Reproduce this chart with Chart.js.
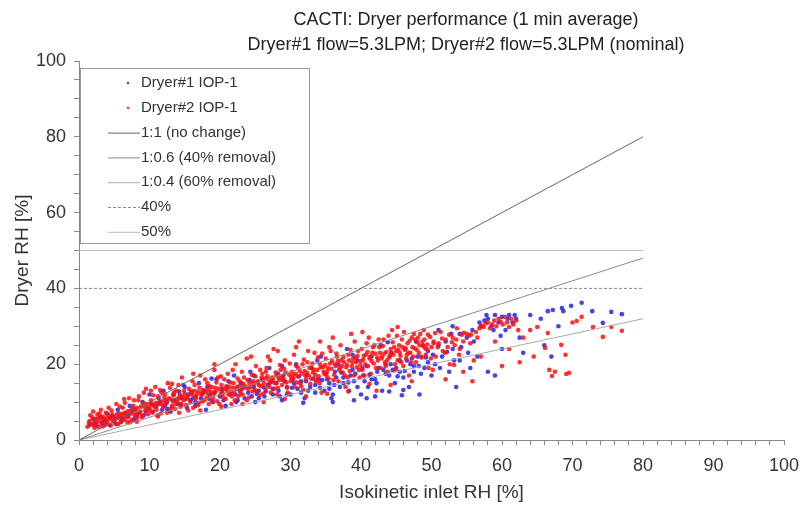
<!DOCTYPE html>
<html>
<head>
<meta charset="utf-8">
<script src="https://cdn.jsdelivr.net/npm/chart.js@4.4.1/dist/chart.umd.min.js"></script>
<style>
  html, body { margin: 0; padding: 0; background: #fff; }
</style>
</head>
<body>
<canvas id="dryerChart" width="800" height="505"></canvas>
<script>
const titleLines = [
  "CACTI: Dryer performance (1 min average)",
  "Dryer#1 flow=5.3LPM; Dryer#2 flow=5.3LPM (nominal)"
];

// Dryer#1 IOP-1, [inlet RH, dryer RH]
const dryer1Points = [
  [1.5,4],[2,5.5],[2.5,3.8],[3,6],[3.2,4.5],[3.8,5],[4,7],[4.3,4],[4.8,6.2],[5,5],[5.5,8],[5.8,6],
  [6,4.8],[6.5,7],[7,6.5],[7.2,9],[7.8,5.5],[8,8],[8.5,7],[9,10],[9.2,6.5],[9.8,8.5],[10,12],[10.5,7.5],
  [11,9],[11.3,11],[11.8,8],[12,13],[12.5,10],[13,7.5],[13.4,12],[14,9.5],[14.5,11],[15,14],[15.3,8.5],
  [15.8,10.5],[16,12.5],[16.5,9],[17,15],[17.3,11],[17.8,13],[18,8],[18.5,12],[19,10],[19.5,16],[20,11.5],
  [20.3,13.5],[20.8,9],[21,14],[21.5,12],[22,17],[22.3,10],[22.8,13],[23,15],[23.5,11],[24,12.5],[24.3,18],
  [24.8,14],[25,10],[25.5,13],[26,16],[26.3,11.5],[26.8,14.5],[27,19],[27.5,12],[28,15],[28.3,13],[28.8,10.5],
  [29,17],[29.5,14],[30,12],[30.3,16],[30.8,20],[31,13.5],[31.5,15.5],[32,11],[32.3,17],[32.8,14],[33,19],
  [33.5,12.5],[34,16],[34.3,22],[34.8,13],[35,17.5],[35.5,15],[36,12],[36.3,18],[36.8,20],[37,14],[37.5,16.5],
  [38,24],[38.3,13],[38.8,18.5],[39,15.5],[39.5,21],[40,12],[40.3,17],[40.8,19.5],[41,14],[41.5,22],[42,16],
  [42.3,18],[42.8,25],[43,13],[43.5,20],[44,17],[44.3,23],[44.8,15],[45,19],[45.5,21],[46,16.5],[46.3,24],
  [46.8,14],[47,20],[47.5,18],[48,22],[48.3,12],[48.8,25],[49,19],[49.5,23.5],[50,17],[50.5,20],[51,25],
  [51.5,22],[52,26],[52.5,18],[53,24],[53.5,14],[54,21],[55,27],[55.5,19],[56,26],[57,30],[57.5,31.5],
  [58,32],[58.5,30],[59,33],[59.5,31],[60,32.5],[60.5,29],[61,33],[61.5,31],[62,32],[56.5,22],[58,18],
  [60,24],[63,23],[64,33],[65.5,32],[66,25],[67,22],[68,30],[59,17],[54,28],[53,30],[51,29],[62.5,27],
  [66.5,34],[67.2,34.3],[68.5,34.8],[68.7,34],[69.8,35.4],[71.3,36.2],[72.8,34],[74.3,30.9],[75.5,33.8],[77,33.2],
  [22.5,10.5],[25.5,11],[27.5,13.5],[29.5,12],[31.5,12.5],[33.5,14.5],[35.5,13.5],[37.5,15],[39.5,14],
  [41.5,16],[43.5,17.5],[45.5,18],[47.5,19.5],[49.5,20.5],[36.5,16.5],[38.5,17],[40.5,15.5],[42.5,19],
  [44.5,18.5],[46.5,21],[48.5,17.5],[30.5,15],[32.5,13],[34.5,15.8],[26.5,12.8],[28.5,11.5],[24.5,11.5],
  [20.5,10.5],[18.5,10.8],[16.5,10],[14.5,9.2],[12.5,8.2],[42,11.5],[44,12.8],[46,13.2],[39,10.5],[36,10],
  [2.2,4.5],[3.5,5.2],[4.5,6],[5.3,4.2],[6.2,5.8],[7.5,7.5],[8.2,6.2],[9.5,7.5],[10.2,9.5],[11.5,10],
  [12.2,9.2],[13.5,10.5],[14.2,12.8],[15.5,12],[16.2,11],[17.5,12.2],[18.2,14],[19.2,12.5],[20.2,12.5],
  [21.2,15.5],[22.2,12],[23.2,13.8],[24.2,15.8],[25.2,12.2],[26.2,14],[27.2,15.2],[28.2,17.5],[29.2,15.5],
  [30.2,13.8],[31.2,16.8],[32.2,15.5],[33.2,16.2],[34.2,13.8],[35.2,16],[36.2,14.5],[37.2,17.8],[38.2,15.2],
  [39.2,17.5],[40.2,19],[41.2,17.2],[42.2,15],[43.2,18.5],[44.2,20],[45.2,16.8],[46.2,18.2],[47.2,21.5],
  [48.2,19.5],[49.2,21.8],[50.2,22.5],[51.2,19],[52.2,23.2],[53.2,21],[54.2,24.5],[55.2,23],[31.8,9.8],
  [35.8,11],[40.8,11],[45.8,11.8],[38.8,22.5],[33.8,21],[28.8,19.5],[43.8,25.8],[47.8,26],[18.8,16.2],
  [14.8,14.5],[24.8,17],[52.8,28],[55.8,29],[56.8,31],[57.8,33],[60.8,32],[61.8,33],[58.8,29],[59.8,27.5]
];

// Dryer#2 IOP-1
const dryer2Points = [
  [1.2,3.5],[1.5,5],[1.6,6.5],[1.8,4.2],[2,7.5],[2.1,3.8],[2.3,5.5],[2.5,4.5],[2.6,6.8],[2.8,3.5],[3,5],
  [3.1,8],[3.3,4.2],[3.5,6],[3.6,5.2],[3.8,7.2],[4,4.5],[4.1,6.5],[4.3,5.5],[4.5,3.8],[4.6,7.8],[4.8,5],
  [5,6.2],[5.1,4.4],[5.3,9.5],[5.5,5.8],[5.7,7],[5.9,4.8],
  [6,6.5],[6.2,8.5],[6.4,5.5],[6.6,7.2],[6.8,4.8],[7,6],[7.1,11],[7.3,7.8],[7.5,5.2],[7.7,9],[7.9,6.6],
  [8,8],[8.2,5.8],[8.4,10.5],[8.6,7.2],[8.8,8.8],[9,6.4],[9.2,12.5],[9.4,7.8],[9.6,9.5],[9.8,6.8],[10,8.5],
  [10.2,10.5],[10.4,7.2],[10.6,9.2],[10.8,14],[11,8],[11.2,11.5],[11.4,9.5],[11.6,7],[11.8,10.2],[12,8.8],
  [12.2,12],[12.4,9.8],[12.6,15],[12.8,7.8],[13,10.8],[13.2,9],[13.4,11.8],[13.6,8.2],[13.8,13],[14,10],
  [14.2,11.2],[14.4,8.8],[14.6,16.5],[14.8,10.5],[15,12.2],
  [15.2,9.2],[15.4,11],[15.6,13.5],[15.8,10],[16,12],[16.2,8.5],[16.4,14.5],[16.6,11],[16.8,12.8],[17,9.8],
  [17.2,17],[17.4,11.8],[17.6,13.2],[17.8,10.5],[18,12.5],[18.2,15],[18.4,9.5],[18.6,12],[18.8,14],[19,11],
  [19.2,18.5],[19.4,12.8],[19.6,10.2],[19.8,13.5],[20,11.8],
  [20.2,14.5],[20.4,12.2],[20.6,16],[20.8,10.8],[21,13],[21.2,12],[21.4,15.2],[21.6,9.5],[21.8,13.8],[22,12.5],
  [22.2,20],[22.4,14],[22.6,11.5],[22.8,15.5],[23,13.2],[23.2,12],[23.4,16.5],[23.6,14.2],[23.8,10.5],
  [24,13.5],[24.2,15],[24.4,22],[24.6,12.8],[24.8,14.8],[25,16.8],
  [25.2,13],[25.4,15.5],[25.6,11.8],[25.8,14.2],[26,17.5],[26.2,15],[26.4,13.5],[26.6,19],[26.8,16],[27,14],
  [27.2,12.5],[27.4,16.5],[27.6,24],[27.8,15],[28,17],[28.2,13.8],[28.4,15.8],[28.6,18.5],[28.8,14.5],
  [29,16.2],[29.2,21],[29.4,15.2],[29.6,12.5],[29.8,17.2],[30,15.5],
  [30.2,18],[30.4,16.2],[30.6,14],[30.8,19.5],[31,16.8],[31.2,26],[31.4,15],[31.6,17.5],[31.8,13.2],[32,18.2],
  [32.2,16],[32.4,20.5],[32.6,17],[32.8,14.8],[33,19],[33.2,17.8],[33.4,23],[33.6,15.5],[33.8,18.5],[34,16.8],
  [34.2,20],[34.4,12.5],[34.6,19.2],[34.8,17.5],[35,21.5],
  [35.2,18],[35.4,16.2],[35.6,20.2],[35.8,18.8],[36,27],[36.2,17.2],[36.4,19.5],[36.6,22],[36.8,15.5],[37,19],
  [37.2,21],[37.4,17.8],[37.6,20.5],[37.8,14],[38,19.8],[38.2,22.5],[38.4,18.2],[38.6,28],[38.8,20.5],[39,17],
  [39.2,21.8],[39.4,19.2],[39.6,23.5],[39.8,16.5],[40,20.8],
  [40.2,18.5],[40.4,22.2],[40.6,20],[40.8,25.5],[41,19.5],[41.2,21.5],[41.4,17.5],[41.6,23],[41.8,20.2],
  [42,22.8],[42.2,13],[42.4,21],[42.6,24.5],[42.8,19],[43,22],[43.2,26.5],[43.4,20.5],[43.6,23.2],[43.8,18],
  [44,21.8],[44.2,24],[44.4,29],[44.6,22.5],[44.8,20],[45,23.5],
  [45.2,21],[45.4,25],[45.6,22.2],[45.8,26.5],[46,19.5],[46.2,23.8],[46.4,21.5],[46.6,25.5],[46.8,17],[47,23],
  [47.2,27],[47.4,22],[47.6,24.2],[47.8,20.5],[48,25.8],[48.2,23],[48.4,28],[48.6,21.8],[48.8,24.8],[49,26.5],
  [49.2,22.5],[49.4,25.2],[49.6,19],[49.8,27.2],[50,24.5],
  [50.3,26],[50.6,22],[51,25.5],[51.3,28.5],[51.6,23.5],[52,26.5],[52.3,24.5],[52.6,20],[53,27],[53.3,25],
  [53.6,29.5],[54,24],[54.3,27.8],[54.6,28.3],[55,28],[55.3,27.5],[55.6,27.8],[56,21],[56.3,28.5],[55.8,15.5],
  [52,16],[54.5,18],
  [56.8,29.5],[57.1,30.2],[57.4,29.8],[57.7,30.8],[58,31],[58.3,29.5],[58.6,30.5],[58.9,31.5],[59.2,30],
  [59.5,32],[59.8,31.2],[60.1,30.5],[60.4,32.5],[60.7,31],[61,29.8],[61.3,32],[61.6,30.5],[62,31.5],[62.3,29],
  [63,27],[59,26],[61,24],[57,22],[60,19.5],[62.5,20.5],
  [64,29],[65,29.8],[66.1,24.3],[66.5,28.2],[68.4,25.1],[70,31],[70.6,31.4],[71.3,32.5],[72.9,29.8],[74.3,27.2],
  [75.5,29.8],[77,28.8],[66.7,18.5],[67.5,18],[67.1,16.9],[69.1,17.4],[69.5,17.7],[64.5,22],[69,22.5],
  [3.2,6.2],[4.4,5.8],[5.4,6.8],[6.3,7],[7.4,7],[8.3,8.5],[9.3,8.8],[10.3,9.5],[11.3,9.8],[12.3,10.5],
  [13.3,10.2],[14.3,12],[15.3,11.5],[16.3,13],[17.3,12.5],[18.3,13.2],[19.3,13.8],[20.3,13],[21.3,14],
  [22.3,13.5],[23.3,14.8],[24.3,14],[25.3,15.2],[26.3,16.2],[27.3,15.5],[28.3,16.5],[29.3,17.8],[30.3,17],
  [31.3,18.2],[32.3,17.8],[33.3,18.5],[34.3,19.2],[35.3,19],[36.3,20],[37.3,19.5],[38.3,21],[39.3,20.5],
  [40.3,21.2],[41.3,22],[42.3,21.8],[43.3,22.8],[44.3,23],[45.3,23.8],[46.3,24.2],[47.3,24.5],[48.3,25],
  [49.3,24],[50.3,25.5],
  [5.2,5.6],[6.7,6.2],[8.7,7.5],[10.7,8.8],[12.7,11],[14.7,11.5],[16.7,12],[18.7,12.8],[20.7,13.5],
  [22.7,14.2],[24.7,15.5],[26.7,16.8],[28.7,16.8],[30.7,17.5],[32.7,19],[34.7,18],[36.7,20.8],[38.7,19.5],
  [40.7,22.5],[42.7,23],[44.7,24.5],[46.7,23],[48.7,26],
  [2.4,4.8],[3.7,4],[11.7,12.5],[13.7,9.5],[19.7,16.5],[21.7,11.5],[25.7,18.5],[27.7,13.5],[31.7,20],
  [33.7,16],[35.7,23.5],[37.7,17],[39.7,18.5],[41.7,24.5],[43.7,21],[45.7,20.5],[47.7,26.5],
  [1.4,4.6],[1.9,6],[2.2,3.2],[2.7,5.8],[2.9,7],[3.4,3.6],[3.9,5.6],[4.2,8.5],[4.7,6.8],[5.6,4.2],[5.8,8.8],
  [6.1,5.2],[6.5,9.8],[6.9,7.6],[7.2,4.6],[7.6,8.2],[8.1,6.8],[8.5,11.5],[8.9,6],[9.1,9.8],[9.5,13.5],[9.7,8],
  [10.1,7.8],[10.5,11.8],[10.9,9.8],[11.1,6.5],[11.5,13.2],[11.9,9],[12.1,11.2],[12.5,7.2],[12.9,13.8],
  [13.1,8.5],[13.5,12.6],[13.9,10.8],[14.1,14.5],[14.5,9.5],[14.9,13],[15.1,10.8],[15.5,7.8],[15.9,12.8],
  [16.1,15.5],[16.5,11.5],[16.9,9.2],[17.1,13.8],[17.5,10.2],[17.9,16],[18.1,11.2],[18.5,14.2],[18.9,10.2],
  [19.1,12.2],[19.5,15.2],[19.9,9.5],[20.1,16.8],[20.5,11.2],[20.9,14.2],[21.1,17.5],[21.5,12.8],[21.9,15],
  [22.1,10.5],[22.5,16.2],[22.9,12.2],[23.1,18],[23.5,13.8],[23.9,15.8],[24.1,11.2],[24.5,17.2],[24.9,13.2],
  [25.1,19.5],[25.5,14.5],[25.9,16.5],[26.1,12.2],[26.5,18],[26.9,14.8],[27.1,21],[27.5,16],[27.9,17.8],
  [28.1,12],[28.5,19.8],[28.9,15.8],[29.1,18.8],[29.5,13.8],[29.9,20.2],[30.1,16.5],[30.5,22.5],[30.9,15.2],
  [31.1,19],[31.5,14.2],[31.9,21.2],[32.1,17],[32.5,23.5],[32.9,16.2],[33.1,20.2],[33.5,17.2],[33.9,21.8],
  [34.1,15],[34.5,22.8],[34.9,19.8],[35.1,17],[35.5,24.5],[35.9,20.8],[36.1,15.8],[36.5,22.8],[36.9,18.5],
  [37.1,25],[37.5,21.8],[37.9,19.2],[38.1,16.5],[38.5,23.8],[38.9,21.5],[39.1,26],[39.5,22.2],[39.9,19.8],
  [40.1,24],[40.5,17],[40.9,23.2],[41.1,27],[41.5,20.8],[41.9,25],[42.1,19],[42.5,26.5],[42.9,21.5],
  [43.1,24.8],[43.5,19.5],[43.9,27.5],[44.1,22.2],[44.5,25.8],[44.9,18.5],[45.1,27.5],[45.5,23],[45.9,24.5],
  [46.1,28.5],[46.5,22.5],[46.9,26.2],[47.1,20.5],[47.5,28],[47.9,23.8],[48.1,27],[48.5,22],[48.9,29],
  [49.1,24.2],[49.5,27.8],[49.9,21.5],[50.5,28.2],[50.9,24.5],[51.5,26.8],[51.9,23],[52.5,27.8],[52.9,25.8],
  [53.5,26.5],[53.9,22.5],[54.5,26],[55.5,25.5],[56.5,27],[50.2,18.5],[53.2,19.8],[47.2,15.5],[44.2,14.5],
  [41.2,14.8],[38.2,12.8],[35.2,12.2],[32.2,11.5],[29.2,10.8],[26.2,10],[23.2,9.5],[20.2,8.8],[17.2,7.8],
  [14.2,7.2],[11.2,6.2],[8.2,4.8],[13.2,14.8],[10.2,13],[7.8,10.5],[6.4,10.8],[16.2,17.5],[19.2,20],
  [23.8,21.5],[28.2,23.5],[34.2,26],[40.2,28.5],[45.2,29.8],[30.8,24.5],[26.8,22],[21.8,18.5]
];

// reference lines: x end points and y end points
const refX = [0, 80];
const oneToOne = [0, 80];
const ratio06 = [0, 48];
const ratio04 = [0, 32];
const rh40 = [40, 40];
const rh50 = [50, 50];

function toXY(points) {
  return points.map(p => ({ x: p[0], y: p[1] }));
}
function refLine(ys) {
  return refX.map((x, i) => ({ x: x, y: ys[i] }));
}

const FONT = '"Liberation Sans", Arial, sans-serif';
Chart.defaults.font.family = FONT;
Chart.defaults.color = '#333';

const titlePlugin = {
  id: 'twoLineTitle',
  afterDraw(chart) {
    const ctx = chart.ctx;
    ctx.save();
    ctx.font = '18px ' + FONT;
    ctx.fillStyle = '#222';
    ctx.textAlign = 'center';
    ctx.textBaseline = 'middle';
    ctx.fillText(titleLines[0], 466, 20);
    ctx.fillText(titleLines[1], 466, 45);
    ctx.restore();
  }
};

// legend drawn as a framed box in the upper-left of the plot
const boxLegend = {
  id: 'boxLegend',
  afterDraw(chart) {
    const ctx = chart.ctx;
    const x0 = 80, y0 = 68, w = 229, h = 175;
    ctx.save();
    ctx.fillStyle = '#fff';
    ctx.fillRect(x0, y0, w, h);
    ctx.strokeStyle = '#999';
    ctx.lineWidth = 1;
    ctx.strokeRect(x0 + 0.5, y0 + 0.5, w, h);
    ctx.font = '15px ' + FONT;
    ctx.textBaseline = 'middle';
    chart.data.datasets.forEach((ds, i) => {
      const y = y0 + 15 + i * 24.8;
      if (!ds.showLine) {
        ctx.fillStyle = ds.backgroundColor;
        ctx.beginPath();
        ctx.arc(128, y, 1.3, 0, Math.PI * 2);
        ctx.fill();
      } else {
        ctx.strokeStyle = ds.borderColor;
        ctx.lineWidth = ds.borderWidth;
        ctx.setLineDash(ds.borderDash || []);
        ctx.beginPath();
        ctx.moveTo(108, y + 0.5);
        ctx.lineTo(140, y + 0.5);
        ctx.stroke();
        ctx.setLineDash([]);
      }
      ctx.fillStyle = '#333';
      ctx.fillText(ds.label, 141, y);
    });
    ctx.restore();
  }
};

function lineSet(label, ys, color, dash) {
  return {
    label: label,
    data: refLine(ys),
    showLine: true,
    borderColor: color,
    borderWidth: 1,
    borderDash: dash,
    pointRadius: 0,
    pointHoverRadius: 0,
    order: 0
  };
}

new Chart(document.getElementById('dryerChart'), {
  type: 'scatter',
  data: {
    datasets: [
      {
        label: 'Dryer#1 IOP-1',
        data: toXY(dryer1Points),
        showLine: false,
        backgroundColor: 'rgba(35,35,230,0.85)',
        borderWidth: 0,
        pointRadius: 2.3,
        order: 2
      },
      {
        label: 'Dryer#2 IOP-1',
        data: toXY(dryer2Points),
        showLine: false,
        backgroundColor: 'rgba(255,15,15,0.85)',
        borderWidth: 0,
        pointRadius: 2.3,
        order: 1
      },
      lineSet('1:1 (no change)', oneToOne, '#666', []),
      lineSet('1:0.6 (40% removal)', ratio06, '#8a8a8a', []),
      lineSet('1:0.4 (60% removal)', ratio04, '#aaa', []),
      lineSet('40%', rh40, '#8a8a8a', [3, 2]),
      lineSet('50%', rh50, '#bbb', [])
    ]
  },
  options: {
    responsive: false,
    animation: false,
    devicePixelRatio: 1,
    layout: { padding: { top: 61, right: 16, left: 0, bottom: 0 } },
    plugins: {
      legend: { display: false },
      title: { display: false },
      tooltip: { enabled: false }
    },
    scales: {
      x: {
        type: 'linear',
        min: 0,
        max: 100,
        afterFit: s => {
          s.height = 65;
          // end labels may hang past the plot edge, as in the original
          s.paddingLeft = 0;
          s.paddingRight = 0;
        },
        ticks: {
          stepSize: 2,
          autoSkip: false,
          maxRotation: 0,
          padding: 10,
          color: '#333',
          font: { size: 18 },
          callback: v => (v % 10 === 0 ? v : '')
        },
        grid: { drawOnChartArea: false, drawTicks: true, tickLength: 5, tickColor: '#888' },
        border: { color: '#888' },
        title: {
          display: true,
          text: 'Isokinetic inlet RH [%]',
          color: '#333',
          font: { size: 19 },
          padding: { top: 0, bottom: 1 }
        }
      },
      y: {
        type: 'linear',
        min: 0,
        max: 100,
        afterFit: s => { s.width = 79; },
        ticks: {
          stepSize: 5,
          autoSkip: false,
          padding: 8,
          color: '#333',
          font: { size: 18 },
          callback: v => (v % 20 === 0 ? v : '')
        },
        grid: { drawOnChartArea: false, drawTicks: true, tickLength: 5, tickColor: '#888' },
        border: { color: '#888' },
        title: {
          display: true,
          text: 'Dryer RH [%]',
          color: '#333',
          font: { size: 19 },
          padding: { top: 11, bottom: 0 }
        }
      }
    }
  },
  plugins: [titlePlugin, boxLegend]
});
</script>
</body>
</html>
